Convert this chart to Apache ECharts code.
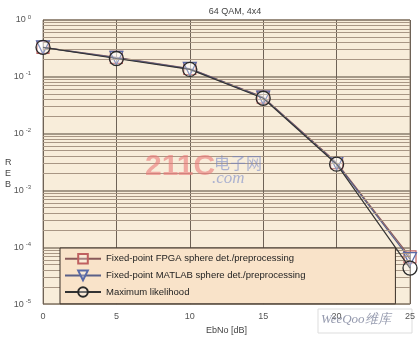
<!DOCTYPE html>
<html><head><meta charset="utf-8">
<script src="https://cdn.jsdelivr.net/npm/echarts@6/dist/echarts.min.js"></script>
<style>html,body{margin:0;padding:0;background:#fff}#c{width:420px;height:340px}</style>
</head><body><div id="c"></div>
<script>
var ebno = [0, 5, 10, 15, 20, 25];
var berFpga = [0.33, 0.22, 0.14, 0.044, 0.0031, 0.000068];
var berMatlab = [0.33, 0.215, 0.138, 0.043, 0.0030, 0.000062];
var berML = [0.33, 0.21, 0.135, 0.042, 0.0029, 0.000043];
var seriesNames = ['Fixed-point FPGA sphere det./preprocessing', 'Fixed-point MATLAB sphere det./preprocessing', 'Maximum likelihood'];
var xTicks = [0, 5, 10, 15, 20, 25];
var decades = [-5, -4, -3, -2, -1];
var minorMult = [2, 3, 4, 5, 6, 7, 8, 9];

var minorLines = [];
decades.forEach(function (d) {
  minorMult.forEach(function (m) { minorLines.push({ yAxis: m * Math.pow(10, d) }); });
});
function pairs(ys) { return ebno.map(function (x, i) { return [x, ys[i]]; }); }

var font = 'Liberation Sans, Arial, sans-serif';
var chart = echarts.init(document.getElementById('c'));
chart.setOption({
  animation: false,
  backgroundColor: '#fff',
  title: { text: '64 QAM, 4x4', left: 230, top: 2, textAlign: 'center',
    textStyle: { fontSize: 9, fontWeight: 'normal', color: '#444', fontFamily: font } },
  grid: { left: 43, right: 10, top: 20, bottom: 28, show: true, backgroundColor: '#f8edda', borderColor: '#9a8c7c', borderWidth: 1 },
  xAxis: { type: 'value', min: 0, max: 25, interval: 5,
    name: 'EbNo [dB]', nameLocation: 'middle', nameGap: 20,
    nameTextStyle: { fontSize: 9, color: '#444', fontFamily: font },
    axisLine: { show: false }, axisTick: { show: false },
    axisLabel: { fontSize: 9, color: '#555', fontFamily: font, margin: 8 },
    splitLine: { show: true, lineStyle: { color: '#6e6256', width: 1 } } },
  yAxis: { type: 'log', logBase: 10, min: 1e-5, max: 1,
    axisLine: { show: false }, axisTick: { show: false },
    axisLabel: { margin: 12, fontFamily: font,
      formatter: function (v) { return '{b|10}{e|' + Math.round(Math.log10(v)) + '}'; },
      rich: { b: { fontSize: 9, color: '#555', fontFamily: font }, e: { fontSize: 6, color: '#555', verticalAlign: 'top', padding: [0, 0, 6, 2], fontFamily: font } } },
    splitLine: { show: true, lineStyle: { color: '#8a7c6c', width: 1.5 } } },
  legend: { orient: 'vertical', left: 60, top: 248, data: seriesNames, z: 20,
    itemWidth: 36, itemHeight: 12, itemGap: 5, padding: [5, 90, 6, 4],
    backgroundColor: '#f9e3c9', borderColor: '#3a3028', borderWidth: 1,
    textStyle: { fontSize: 9.5, color: '#222', fontFamily: font } },
  graphic: [
    { type: 'text', z: 30, left: 145, top: 152, style: { text: '211C', font: 'bold 30px Liberation Sans', fill: 'rgba(235,120,120,0.6)' } },
    { type: 'text', z: 30, left: 214, top: 155, style: { text: '电子网', font: '16px "Noto Sans CJK SC"', fill: 'rgba(110,130,200,0.55)' } },
    { type: 'text', z: 30, left: 212, top: 170, style: { text: '.com', font: 'italic 17px Liberation Serif', fill: 'rgba(110,130,200,0.55)' } },
    { type: 'rect', z: -1, shape: { x: 318, y: 309, width: 94, height: 24 }, style: { fill: 'rgba(255,255,255,0.6)', stroke: '#ddd' } },
    { type: 'text', z: 30, left: 321, top: 313, style: { text: 'WeeQoo维库', font: 'italic 13px Liberation Serif', fill: 'rgba(130,136,160,0.85)' } },
    { type: 'text', left: 5, top: 157, style: { text: 'R\nE\nB', font: '9px Liberation Sans', fill: '#444', lineHeight: 11 } }
  ],
  series: [
    { type: 'line', name: 'minor', data: pairs(berML), silent: true, z: 1,
      symbol: 'none', lineStyle: { opacity: 0 },
      markLine: { silent: true, symbol: 'none', precision: 12, label: { show: false }, animation: false,
        lineStyle: { color: '#a89684', width: 1, type: 'solid' }, data: minorLines } },
    { type: 'line', name: seriesNames[0], data: pairs(berFpga), z: 3,
      symbol: 'rect', symbolSize: 12,
      lineStyle: { color: '#8a5a5a', width: 1.2 },
      itemStyle: { color: 'rgba(255,255,255,0.25)', borderColor: '#c06060', borderWidth: 1.2 } },
    { type: 'line', name: seriesNames[1], data: pairs(berMatlab), z: 4,
      symbol: 'triangle', symbolRotate: 180, symbolSize: 13,
      lineStyle: { color: '#5a6088', width: 1.2 },
      itemStyle: { color: 'rgba(255,255,255,0.25)', borderColor: '#5a6aa8', borderWidth: 1.2 } },
    { type: 'line', name: seriesNames[2], data: pairs(berML), z: 5,
      symbol: 'circle', symbolSize: 14,
      lineStyle: { color: '#333', width: 1.2 },
      itemStyle: { color: 'rgba(255,255,255,0.3)', borderColor: '#2a2a2a', borderWidth: 1.3 } }
  ]
});
</script></body></html>
